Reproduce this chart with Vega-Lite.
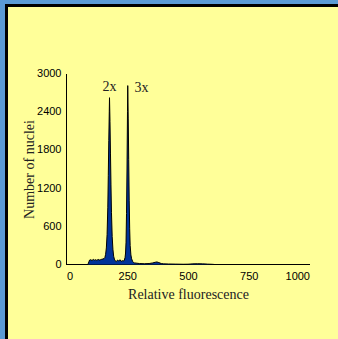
{
  "$schema": "https://vega.github.io/schema/vega-lite/v6.json",
  "width": 331.5,
  "height": 333.5,
  "autosize": "none",
  "padding": {"left": 6.5, "top": 5.5, "right": 0, "bottom": 0},
  "background": "#5b9bd5",
  "config": {
    "view": {"fill": "#ffff99", "stroke": "black", "strokeWidth": 3, "strokeDash": [331.5, 665, 333.5]},
    "axis": {
      "grid": false,
      "ticks": false,
      "domainColor": "black",
      "labelFont": "Liberation Sans",
      "labelFontSize": 11,
      "labelColor": "black",
      "labelOverlap": false,
      "format": "d",
      "titleFont": "Liberation Serif",
      "titleFontSize": 14,
      "titleFontWeight": "normal",
      "titleColor": "#222222"
    }
  },
  "datasets": {
    "hist": [
      {"fluorescence": 88, "nuclei": 0},
      {"fluorescence": 92, "nuclei": 40},
      {"fluorescence": 95, "nuclei": 70},
      {"fluorescence": 100, "nuclei": 75},
      {"fluorescence": 105, "nuclei": 62},
      {"fluorescence": 110, "nuclei": 80},
      {"fluorescence": 115, "nuclei": 68},
      {"fluorescence": 120, "nuclei": 76},
      {"fluorescence": 125, "nuclei": 64},
      {"fluorescence": 130, "nuclei": 80},
      {"fluorescence": 135, "nuclei": 70},
      {"fluorescence": 140, "nuclei": 76},
      {"fluorescence": 145, "nuclei": 82},
      {"fluorescence": 150, "nuclei": 86},
      {"fluorescence": 155, "nuclei": 95},
      {"fluorescence": 158, "nuclei": 110},
      {"fluorescence": 161, "nuclei": 160},
      {"fluorescence": 164, "nuclei": 260},
      {"fluorescence": 167, "nuclei": 470},
      {"fluorescence": 170, "nuclei": 900},
      {"fluorescence": 172, "nuclei": 1400},
      {"fluorescence": 174, "nuclei": 1950},
      {"fluorescence": 176, "nuclei": 2400},
      {"fluorescence": 177, "nuclei": 2620},
      {"fluorescence": 179, "nuclei": 2250},
      {"fluorescence": 181, "nuclei": 1750},
      {"fluorescence": 183, "nuclei": 1250},
      {"fluorescence": 185, "nuclei": 820},
      {"fluorescence": 188, "nuclei": 440},
      {"fluorescence": 191, "nuclei": 240},
      {"fluorescence": 194, "nuclei": 130},
      {"fluorescence": 197, "nuclei": 85},
      {"fluorescence": 200, "nuclei": 60},
      {"fluorescence": 205, "nuclei": 45},
      {"fluorescence": 210, "nuclei": 70},
      {"fluorescence": 215, "nuclei": 55},
      {"fluorescence": 220, "nuclei": 75},
      {"fluorescence": 225, "nuclei": 50},
      {"fluorescence": 230, "nuclei": 60},
      {"fluorescence": 235, "nuclei": 55},
      {"fluorescence": 238, "nuclei": 70},
      {"fluorescence": 241, "nuclei": 110},
      {"fluorescence": 243, "nuclei": 180},
      {"fluorescence": 245, "nuclei": 350},
      {"fluorescence": 247, "nuclei": 800},
      {"fluorescence": 249, "nuclei": 1500},
      {"fluorescence": 251, "nuclei": 2400},
      {"fluorescence": 252, "nuclei": 2810},
      {"fluorescence": 254, "nuclei": 2300},
      {"fluorescence": 256, "nuclei": 1650},
      {"fluorescence": 258, "nuclei": 1000},
      {"fluorescence": 260, "nuclei": 560},
      {"fluorescence": 262, "nuclei": 300},
      {"fluorescence": 265, "nuclei": 150},
      {"fluorescence": 268, "nuclei": 90},
      {"fluorescence": 272, "nuclei": 50},
      {"fluorescence": 276, "nuclei": 30},
      {"fluorescence": 280, "nuclei": 25},
      {"fluorescence": 290, "nuclei": 20},
      {"fluorescence": 300, "nuclei": 15},
      {"fluorescence": 320, "nuclei": 12},
      {"fluorescence": 340, "nuclei": 15},
      {"fluorescence": 355, "nuclei": 25},
      {"fluorescence": 365, "nuclei": 35},
      {"fluorescence": 372, "nuclei": 40},
      {"fluorescence": 380, "nuclei": 30},
      {"fluorescence": 390, "nuclei": 15},
      {"fluorescence": 400, "nuclei": 10},
      {"fluorescence": 420, "nuclei": 8},
      {"fluorescence": 450, "nuclei": 6},
      {"fluorescence": 480, "nuclei": 4},
      {"fluorescence": 500, "nuclei": 5},
      {"fluorescence": 520, "nuclei": 10},
      {"fluorescence": 540, "nuclei": 12},
      {"fluorescence": 560, "nuclei": 10},
      {"fluorescence": 580, "nuclei": 6},
      {"fluorescence": 600, "nuclei": 3},
      {"fluorescence": 610, "nuclei": 0}
    ],
    "labels": [
      {"fluorescence": 177, "nuclei": 2795, "label": "2x"},
      {"fluorescence": 309, "nuclei": 2780, "label": "3x"}
    ]
  },
  "layer": [
    {
      "mark": {"type": "rect", "fill": "white", "stroke": "#222222", "strokeWidth": 1},
      "encoding": {
        "x": {"datum": 0, "type": "quantitative"},
        "x2": {"datum": 1000},
        "y": {"datum": 0, "type": "quantitative"},
        "y2": {"datum": 3000}
      }
    },
    {
      "data": {"name": "hist"},
      "mark": {"type": "area", "color": "#003399", "opacity": 1, "line": {"color": "black", "strokeWidth": 1}},
      "encoding": {
        "x": {
          "field": "fluorescence",
          "type": "quantitative",
          "scale": {"domain": [0, 1000], "range": [60, 303]},
          "axis": {"values": [0, 250, 500, 750, 1000], "offset": -75, "labelPadding": 6, "labelOverlap": false, "title": "Relative fluorescence", "titlePadding": 6}
        },
        "y": {
          "field": "nuclei",
          "type": "quantitative",
          "scale": {"domain": [0, 3000], "range": [259, 68]},
          "axis": {"values": [0, 600, 1200, 1800, 2400, 3000], "offset": -59.5, "labelPadding": 5, "labelOverlap": false, "labelFlush": false, "title": "Number of nuclei", "titlePadding": 0}
        }
      }
    },
    {
      "data": {"name": "labels"},
      "mark": {"type": "text", "font": "Liberation Serif", "fontSize": 14, "color": "#222222"},
      "encoding": {
        "x": {"field": "fluorescence", "type": "quantitative"},
        "y": {"field": "nuclei", "type": "quantitative"},
        "text": {"field": "label"}
      }
    }
  ]
}
